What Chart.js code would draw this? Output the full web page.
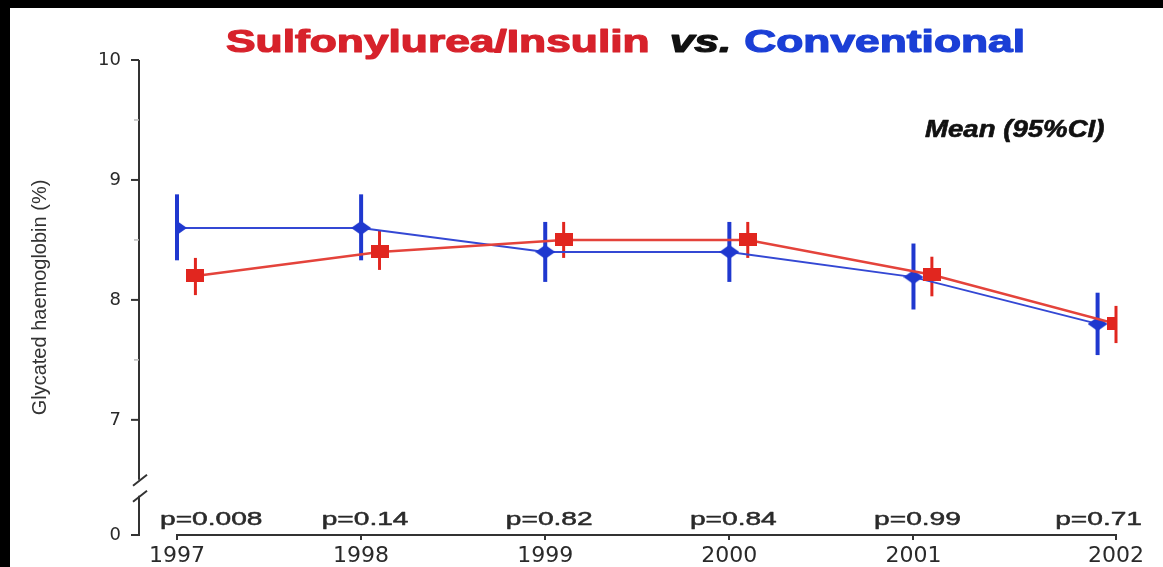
<!DOCTYPE html>
<html>
<head>
<meta charset="utf-8">
<script src="https://cdn.jsdelivr.net/npm/chart.js@4.4.1/dist/chart.umd.min.js"></script>
<style>
  html, body { margin: 0; padding: 0; background: #000; }
  #wrap { position: absolute; left: 10px; top: 8px; width: 1153px; height: 559px; background: #fff; }
</style>
</head>
<body>
<div id="wrap"><canvas id="hba1c"></canvas></div>
<script>
// data
const years = [1997, 1998, 1999, 2000, 2001, 2002];
const pValues = ['p=0.008', 'p=0.14', 'p=0.82', 'p=0.84', 'p=0.99', 'p=0.71'];

const sulfMean = [8.2, 8.4, 8.5, 8.5, 8.21, 7.8];
const sulfLo = [8.04, 8.25, 8.35, 8.35, 8.03, 7.64];
const sulfHi = [8.35, 8.58, 8.65, 8.65, 8.36, 7.95];

const convMean = [8.6, 8.6, 8.4, 8.4, 8.19, 7.8];
const convLo = [8.33, 8.33, 8.15, 8.15, 7.92, 7.54];
const convHi = [8.88, 8.88, 8.65, 8.65, 8.47, 8.06];

const yTickValues = [7, 8, 9, 10];
const yMinorTicks = [7.5, 8.5, 9.5];
const yFloor = 6.04;   // broken axis: bottom of the scale stands for 0

const RED = '#e1261f';
const BLUE = '#1f38cf';
const INK = '#2a2a2a';
const dodge = 0.1;

function marker(kind, color) {
  const c = document.createElement('canvas');
  const g = c.getContext('2d');
  if (kind === 'diamond') {
    c.width = 20; c.height = 14;
    g.fillStyle = color;
    g.beginPath();
    g.moveTo(10, 0); g.lineTo(20, 7); g.lineTo(10, 14); g.lineTo(0, 7);
    g.closePath(); g.fill();
  } else {
    c.width = 18; c.height = 13;
    g.fillStyle = color;
    g.fillRect(0, 0, 18, 13);
  }
  return c;
}

function stretchText(ctx, text, x, y, sx, align, heavy) {
  const w = ctx.measureText(text).width * sx;
  const x0 = align === 'center' ? x - w / 2 : align === 'right' ? x - w : x;
  ctx.save();
  ctx.translate(x0, y);
  ctx.scale(sx, 1);
  ctx.textAlign = 'left';
  ctx.fillText(text, 0, 0);
  if (heavy) {
    ctx.strokeStyle = ctx.fillStyle;
    ctx.lineWidth = heavy;
    ctx.lineJoin = 'round';
    ctx.strokeText(text, 0, 0);
  }
  ctx.restore();
  return w;
}

const errorBars = {
  id: 'errorBars',
  beforeDatasetsDraw(chart) {
    const {ctx, scales: {x, y}} = chart;
    chart.data.datasets.forEach(ds => {
      ctx.save();
      ctx.strokeStyle = ds.barColor;
      ctx.lineWidth = ds.barWidth;
      ds.data.forEach((p, i) => {
        const px = x.getPixelForValue(p.x);
        ctx.beginPath();
        ctx.moveTo(px, y.getPixelForValue(ds.lo[i]));
        ctx.lineTo(px, y.getPixelForValue(ds.hi[i]));
        ctx.stroke();
      });
      ctx.restore();
    });
  }
};

const decor = {
  id: 'decor',
  afterDraw(chart) {
    const {ctx, chartArea, scales: {x, y}} = chart;
    const ax = chartArea.left - 38;
    ctx.save();

    // y axis with a break
    ctx.strokeStyle = '#333';
    ctx.lineWidth = 2;
    const brk = y.getPixelForValue(6.45);
    const bottom = y.getPixelForValue(yFloor);
    ctx.beginPath();
    ctx.moveTo(ax, y.getPixelForValue(10));
    ctx.lineTo(ax, brk - 6);
    ctx.moveTo(ax, brk + 10);
    ctx.lineTo(ax, bottom);
    ctx.lineTo(ax - 8, bottom);
    ctx.stroke();
    ctx.beginPath();
    ctx.moveTo(ax - 6, brk); ctx.lineTo(ax + 8, brk - 11);
    ctx.moveTo(ax - 6, brk + 16); ctx.lineTo(ax + 8, brk + 5);
    ctx.stroke();

    yTickValues.forEach(v => {
      const py = y.getPixelForValue(v);
      ctx.beginPath(); ctx.moveTo(ax - 8, py); ctx.lineTo(ax, py); ctx.stroke();
    });
    ctx.strokeStyle = '#bbb';
    ctx.lineWidth = 1.5;
    yMinorTicks.forEach(v => {
      const py = y.getPixelForValue(v);
      ctx.beginPath(); ctx.moveTo(ax - 5, py); ctx.lineTo(ax, py); ctx.stroke();
    });

    // p values above the x axis
    ctx.fillStyle = INK;
    ctx.font = '19px "Liberation Sans", Arial, sans-serif';
    ctx.textBaseline = 'alphabetic';
    const last = years.length - 1;
    pValues.forEach((t, i) => {
      const px = x.getPixelForValue(i === last ? years[i] + dodge : years[i]);
      if (i === 0) stretchText(ctx, t, px - 17, chartArea.bottom - 10, 1.48, 'left', 0.5);
      else if (i === last) stretchText(ctx, t, px + 26, chartArea.bottom - 10, 1.48, 'right', 0.5);
      else stretchText(ctx, t, px + 4, chartArea.bottom - 10, 1.48, 'center', 0.5);
    });

    // title in three colours
    const sx = 1.43;
    let tx = 216;
    const ty = 44;
    ctx.font = 'bold 31px "Liberation Sans", Arial, sans-serif';
    ctx.fillStyle = '#d7222b';
    tx += stretchText(ctx, 'Sulfonylurea/Insulin', tx, ty, sx, 'left', 1.2) + 20;
    ctx.font = 'italic bold 31px "Liberation Sans", Arial, sans-serif';
    ctx.fillStyle = '#111';
    tx += stretchText(ctx, 'vs.', tx, ty, sx, 'left', 1.2) + 13;
    ctx.font = 'bold 31px "Liberation Sans", Arial, sans-serif';
    ctx.fillStyle = '#1b3fd6';
    stretchText(ctx, 'Conventional', tx, ty, sx, 'left', 1.2);

    ctx.font = 'italic bold 23px "Liberation Sans", Arial, sans-serif';
    ctx.fillStyle = '#111';
    stretchText(ctx, 'Mean (95%CI)', 915, 129, 1.2, 'left', 0.6);

    ctx.restore();
  }
};

const ctx = document.getElementById('hba1c').getContext('2d');
new Chart(ctx, {
  type: 'line',
  data: {
    datasets: [
      {
        label: 'Sulfonylurea/Insulin',
        data: years.map((yr, i) => ({x: yr + dodge, y: sulfMean[i]})),
        lo: sulfLo, hi: sulfHi,
        barColor: RED, barWidth: 3,
        borderColor: '#e4433b',
        borderWidth: 2.5,
        pointStyle: marker('square', RED),
        pointRadius: 9,
        tension: 0
      },
      {
        label: 'Conventional',
        data: years.map((yr, i) => ({x: yr, y: convMean[i]})),
        lo: convLo, hi: convHi,
        barColor: BLUE, barWidth: 4,
        borderColor: '#3448d4',
        borderWidth: 2,
        pointStyle: marker('diamond', BLUE),
        pointRadius: 10,
        tension: 0
      }
    ]
  },
  options: {
    responsive: true,
    maintainAspectRatio: false,
    animation: false,
    events: [],
    layout: { padding: { top: 52, right: 47, left: 0, bottom: 0 } },
    plugins: { legend: { display: false }, tooltip: { enabled: false } },
    scales: {
      x: {
        type: 'linear',
        min: 1997,
        max: 2002 + dodge,
        afterBuildTicks: s => {
          s.ticks = years.map((yr, i) => ({value: i === years.length - 1 ? yr + dodge : yr}));
        },
        afterFit: s => { s.height = 32; },
        border: { display: true, color: '#333', width: 2 },
        grid: { display: true, drawOnChartArea: false, drawTicks: true, tickLength: 5, color: '#333', lineWidth: 2 },
        ticks: {
          autoSkip: false,
          maxRotation: 0,
          padding: 3,
          color: INK,
          font: { family: '"DejaVu Sans", sans-serif', size: 22 },
          callback: (v, i) => String(years[i])
        }
      },
      y: {
        min: yFloor,
        max: 10,
        afterBuildTicks: s => {
          s.ticks = [{value: yFloor}].concat(yTickValues.map(v => ({value: v})));
        },
        afterFit: s => { s.width = 167; },
        border: { display: false },
        grid: { display: false, drawTicks: true, tickLength: 52 },
        ticks: {
          padding: 4,
          color: INK,
          font: { family: '"DejaVu Sans", sans-serif', size: 18 },
          callback: v => (v === yFloor ? '0' : String(v))
        },
        title: {
          display: true,
          text: 'Glycated haemoglobin (%)',
          color: '#333',
          font: { family: '"Liberation Sans", Arial, sans-serif', size: 20 },
          padding: { top: 18, bottom: 0 }
        }
      }
    }
  },
  plugins: [errorBars, decor]
});
</script>
</body>
</html>
